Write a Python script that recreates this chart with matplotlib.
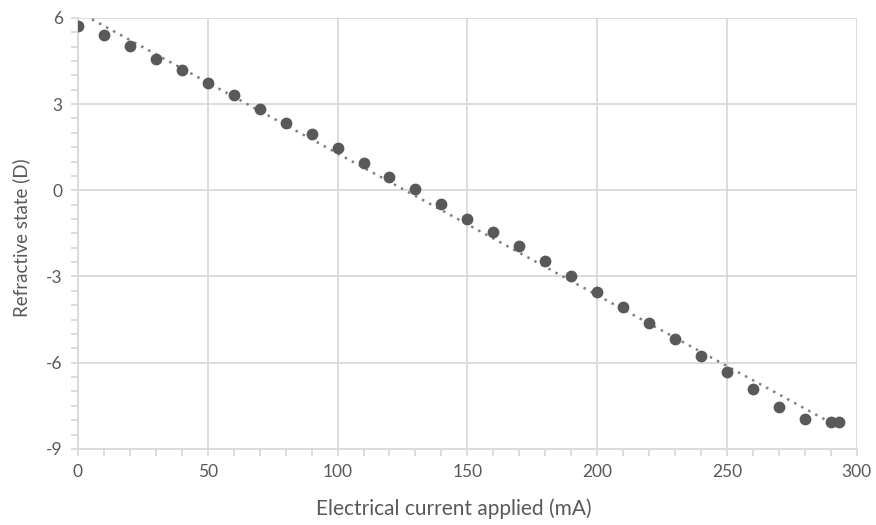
import numpy as np
import matplotlib.pyplot as plt
from matplotlib.ticker import MultipleLocator

# dados
corrente = [0, 10, 20, 30, 40, 50, 60, 70, 80, 90, 100, 110, 120, 130, 140,
            150, 160, 170, 180, 190, 200, 210, 220, 230, 240, 250, 260, 270,
            280, 290, 293]
refracao = [5.72, 5.40, 5.03, 4.57, 4.17, 3.75, 3.31, 2.83, 2.35, 1.96, 1.47,
            0.96, 0.47, 0.06, -0.49, -0.99, -1.46, -1.95, -2.46, -3.00, -3.54,
            -4.07, -4.62, -5.17, -5.78, -6.32, -6.92, -7.54, -7.95, -8.08, -8.08]

x_ticks = [0, 50, 100, 150, 200, 250, 300]
y_ticks = [-9, -6, -3, 0, 3, 6]

cinza_texto = '#595959'
cinza_grade = '#d9d9d9'

plt.rcParams['font.family'] = ['Lato', 'DejaVu Sans']
plt.rcParams['axes.unicode_minus'] = False

fig = plt.figure(figsize=(8.76, 5.25), dpi=100)
ax = fig.add_axes([0.089, 0.145, 0.889, 0.821])

# linha de tendência linear
a, b = np.polyfit(corrente, refracao, 1)
xt = np.array([min(corrente), max(corrente)])
ax.plot(xt, a * xt + b, linestyle=(0, (1, 2.2)), color='#808080', lw=1.8, zorder=2)

ax.scatter(corrente, refracao, s=72, color='#595959', zorder=3, linewidths=0)

ax.set_xlim(0, 300)
ax.set_ylim(-9, 6)
ax.set_xticks(x_ticks)
ax.set_yticks(y_ticks)
ax.xaxis.set_minor_locator(MultipleLocator(10))
ax.yaxis.set_minor_locator(MultipleLocator(0.5))

ax.grid(True, which='major', color=cinza_grade, lw=1.3)
ax.set_axisbelow(True)
for lado in ['top', 'right']:
    ax.spines[lado].set_visible(False)
for lado in ['left', 'bottom']:
    ax.spines[lado].set_color(cinza_grade)
    ax.spines[lado].set_linewidth(1.3)

ax.tick_params(which='both', direction='out', color=cinza_grade, width=1.3,
               labelcolor=cinza_texto, labelsize=12.5)
ax.tick_params(which='major', length=5, pad=6)
ax.tick_params(which='minor', length=5)

ax.set_xlabel('Electrical current applied (mA)', fontsize=15, color=cinza_texto)
ax.set_ylabel('Refractive state (D)', fontsize=13.5, color=cinza_texto)
ax.xaxis.set_label_coords(0.483, -0.115)
ax.yaxis.set_label_coords(-0.062, 0.49)

fig.savefig('out.png', dpi=100)
